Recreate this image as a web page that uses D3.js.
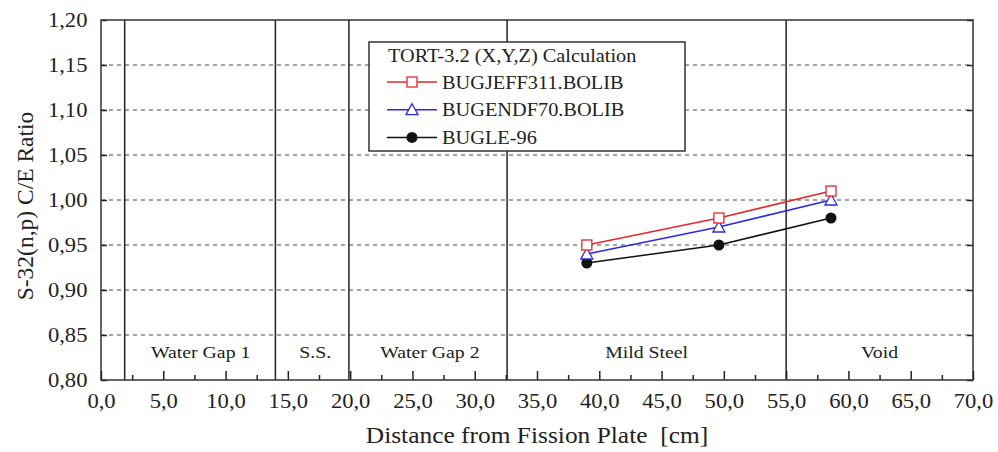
<!DOCTYPE html>
<html lang="en">
<head>
<meta charset="UTF-8">
<script src="https://d3js.org/d3.v7.min.js"></script>
<style>
  body { margin: 0; background: #fff; }
  text { font-family: "Liberation Serif", "Times New Roman", serif; fill: #222; }
</style>
</head>
<body>
<div id="chart"></div>
<script>
// data
const distance = [39.0, 49.6, 58.6];
const jeff311 = [0.95, 0.98, 1.01];
const endf70 = [0.94, 0.97, 1.00];
const bugle96 = [0.93, 0.95, 0.98];

const regionBounds = [1.9, 14.0, 19.9, 32.6, 55.0];
const regionNames = ["Water Gap 1", "S.S.", "Water Gap 2", "Mild Steel", "Void"];
const regionCenters = [8.0, 17.2, 26.4, 43.8, 62.5];

const xTicks = d3.range(0, 70.01, 5);
const xMinor = d3.range(2.5, 70, 5);
const yTicks = d3.range(0.80, 1.2001, 0.05);

const series = [
  { name: "BUGJEFF311.BOLIB", values: jeff311, color: "#e8262a", marker: "square" },
  { name: "BUGENDF70.BOLIB", values: endf70, color: "#2a2ae0", marker: "triangle" },
  { name: "BUGLE-96", values: bugle96, color: "#111", marker: "dot" }
];

const W = 998, H = 452;
const margin = { top: 20, right: 25, bottom: 72, left: 101 };
const sx = 1.13; // the original text is a little wide
const FONT = "Liberation Serif";

const svg = d3.select("#chart").append("svg")
  .attr("width", W).attr("height", H);

const x = d3.scaleLinear().domain([0, 70]).range([margin.left, W - margin.right]);
const y = d3.scaleLinear().domain([0.8, 1.2]).range([H - margin.bottom, margin.top]);

const comma = f => v => d3.format(f)(v).replace(".", ",");

// wide text placed at (px, py)
const wideText = (g, px, py, size, str, anchor) =>
  g.append("text")
    .attr("transform", `translate(${px},${py}) scale(${sx},1)`)
    .attr("text-anchor", anchor || "start")
    .attr("font-family", FONT)
    .attr("font-size", size)
    .text(str);

// dashed grid
svg.append("g").selectAll("line")
  .data(yTicks.slice(1, -1))
  .join("line")
  .attr("x1", x(0)).attr("x2", x(70))
  .attr("y1", d => y(d)).attr("y2", d => y(d))
  .attr("stroke", "#444").attr("stroke-width", 1)
  .attr("stroke-dasharray", "4,4");

// region boundaries
svg.append("g").selectAll("line")
  .data(regionBounds)
  .join("line")
  .attr("x1", d => x(d)).attr("x2", d => x(d))
  .attr("y1", y(0.8)).attr("y2", y(1.2))
  .attr("stroke", "#222").attr("stroke-width", 1.5);

// axes (ticks pointing inward)
svg.append("g")
  .attr("transform", `translate(0,${y(0.8)})`)
  .call(d3.axisBottom(x).tickValues(xTicks).tickSize(-9).tickPadding(14).tickFormat(comma(".1f")));
svg.append("g")
  .attr("transform", `translate(0,${y(0.8)})`)
  .call(d3.axisBottom(x).tickValues(xMinor).tickSize(-5).tickFormat(""));
svg.append("g")
  .attr("transform", `translate(${x(0)},0)`)
  .call(d3.axisLeft(y).tickValues(yTicks).tickSize(-6).tickPadding(12).tickFormat(comma(".2f")));
svg.append("g")
  .attr("transform", `translate(${x(70)},0)`)
  .call(d3.axisRight(y).tickValues(yTicks).tickSize(-6).tickFormat(""));

svg.selectAll(".tick text")
  .attr("font-size", 20)
  .attr("font-family", FONT)
  .attr("fill", "#222")
  .attr("transform", `scale(${sx},1)`);
svg.selectAll(".tick line").attr("stroke", "#222").attr("stroke-width", 1.5);
svg.selectAll(".domain").remove();

// frame
svg.append("rect")
  .attr("x", x(0)).attr("y", y(1.2))
  .attr("width", x(70) - x(0)).attr("height", y(0.8) - y(1.2))
  .attr("fill", "none").attr("stroke", "#333").attr("stroke-width", 1.5);

// region labels
const rg = svg.append("g");
regionNames.forEach((name, i) => wideText(rg, x(regionCenters[i]), y(0.8) - 22, 17.5, name, "middle"));

// series
const marker = (g, s, cx, cy) => {
  if (s.marker === "square") {
    g.append("rect").attr("x", cx - 5).attr("y", cy - 5).attr("width", 10).attr("height", 10)
      .attr("fill", "#fff").attr("stroke", s.color).attr("stroke-width", 1.3);
  } else if (s.marker === "triangle") {
    g.append("path").attr("d", `M${cx},${cy - 6}L${cx + 6},${cy + 5}L${cx - 6},${cy + 5}Z`)
      .attr("fill", "#fff").attr("stroke", s.color).attr("stroke-width", 1.3);
  } else {
    g.append("circle").attr("cx", cx).attr("cy", cy).attr("r", 5.5).attr("fill", s.color);
  }
};

const line = d3.line().x(d => x(d[0])).y(d => y(d[1]));
series.slice().reverse().forEach(s => {
  const pts = distance.map((d, i) => [d, s.values[i]]);
  svg.append("path").datum(pts).attr("d", line)
    .attr("fill", "none").attr("stroke", s.color).attr("stroke-width", 1.5);
  const g = svg.append("g");
  pts.forEach(p => marker(g, s, x(p[0]), y(p[1])));
});

// legend
const lg = svg.append("g");
lg.append("rect").attr("x", 369).attr("y", 42).attr("width", 316).attr("height", 109)
  .attr("fill", "#fff").attr("stroke", "#333").attr("stroke-width", 1.5);
wideText(lg, 388, 62, 18, "TORT-3.2 (X,Y,Z) Calculation");
series.forEach((s, i) => {
  const ly = 82 + i * 27.7;
  lg.append("line").attr("x1", 387).attr("x2", 437).attr("y1", ly).attr("y2", ly)
    .attr("stroke", s.color).attr("stroke-width", 1.5);
  marker(lg, s, 412, ly);
  wideText(lg, 442, ly + 6.5, 18, s.name);
});

// axis titles
wideText(svg, (x(0) + x(70)) / 2, 443, 22.5, "Distance from Fission Plate  [cm]", "middle")
  .style("white-space", "pre");
svg.append("text").attr("transform", `translate(33,206) rotate(-90)`)
  .attr("text-anchor", "middle").attr("font-size", 23.5)
  .attr("font-family", FONT)
  .text("S-32(n,p) C/E Ratio");
</script>
</body>
</html>
